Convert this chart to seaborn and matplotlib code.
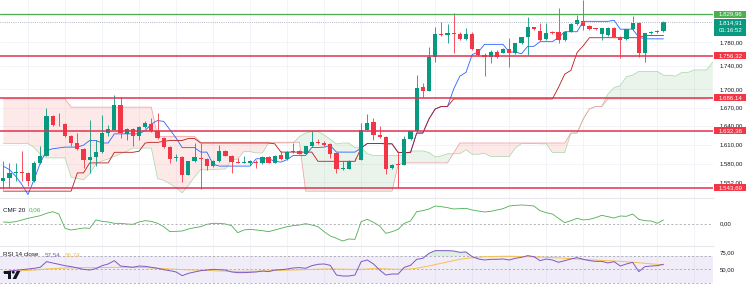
import numpy as np
import matplotlib
matplotlib.use("Agg")
import matplotlib.pyplot as plt
from matplotlib.patches import Rectangle, Polygon, Ellipse
from matplotlib.ticker import NullLocator
import seaborn as sns

# ---------------- data ----------------
opens = [1553.9, 1558.9, 1566.5, 1567.0, 1566.5, 1553.9, 1581.9, 1593.3, 1655.5, 1643.0,
         1643.0, 1624.6, 1613.0, 1604.2, 1587.0, 1590.6, 1598.4, 1628.8, 1634.1, 1674.4,
         1627.2, 1635.2, 1623.6, 1637.9, 1643.7, 1631.5, 1620.9, 1606.2, 1589.0, 1591.2,
         1564.0, 1584.4, 1589.6, 1588.0, 1576.7, 1585.0, 1601.0, 1593.3, 1583.0, 1582.0,
         1582.0, 1583.0, 1581.0, 1590.6, 1582.0, 1594.8, 1588.0, 1598.4, 1601.0, 1596.4,
         1607.8, 1614.0, 1613.0, 1611.5, 1597.4, 1572.6, 1573.0, 1586.0, 1587.0, 1634.1,
         1645.8, 1626.2, 1622.5, 1574.2, 1579.8, 1579.3, 1619.3, 1631.5, 1703.0, 1698.0,
         1755.3, 1793.9, 1792.1, 1795.6, 1793.9, 1785.2, 1793.9, 1767.8, 1758.1, 1755.3,
         1762.7, 1762.1, 1767.8, 1760.9, 1778.2, 1788.6, 1806.2, 1800.3, 1785.2, 1798.6,
         1798.6, 1784.0, 1798.6, 1812.2, 1818.1, 1808.6, 1804.5, 1793.9, 1792.7, 1805.6,
         1789.8, 1785.2, 1802.7, 1814.6, 1762.1, 1795.6, 1798.0, 1799.2]
highs = [1584.4, 1581.9, 1581.9, 1600.0, 1567.5, 1584.4, 1607.8, 1669.0, 1658.2, 1660.9,
         1644.5, 1626.2, 1628.8, 1605.2, 1650.2, 1618.3, 1658.2, 1642.1, 1690.8, 1688.0,
         1637.0, 1637.0, 1639.5, 1647.5, 1652.9, 1660.9, 1622.0, 1607.8, 1596.4, 1592.3,
         1585.5, 1613.0, 1613.0, 1589.0, 1586.0, 1610.4, 1602.6, 1594.3, 1589.6, 1592.3,
         1587.0, 1586.0, 1592.3, 1592.3, 1594.8, 1600.0, 1600.0, 1613.0, 1602.6, 1609.0,
         1631.5, 1619.3, 1615.5, 1613.0, 1598.4, 1584.4, 1587.0, 1589.0, 1644.8, 1659.3,
         1652.9, 1639.5, 1623.6, 1580.3, 1600.0, 1623.6, 1632.5, 1724.2, 1710.3, 1772.4,
         1807.4, 1816.4, 1812.2, 1832.3, 1798.6, 1804.5, 1798.6, 1769.0, 1760.9, 1766.7,
         1766.7, 1769.5, 1786.9, 1779.3, 1789.8, 1825.2, 1807.4, 1813.4, 1813.4, 1799.8,
         1840.0, 1799.8, 1813.4, 1828.2, 1855.0, 1809.8, 1805.6, 1805.6, 1806.8, 1806.8,
         1791.0, 1803.9, 1826.4, 1815.8, 1796.8, 1800.3, 1800.8, 1818.1]
lows = [1541.3, 1543.8, 1553.9, 1553.9, 1546.3, 1552.9, 1580.8, 1592.3, 1639.5, 1640.5,
        1622.5, 1607.8, 1602.6, 1574.2, 1566.5, 1576.7, 1597.4, 1623.6, 1633.0, 1620.9,
        1618.3, 1607.8, 1618.3, 1636.8, 1630.0, 1619.5, 1605.0, 1581.9, 1584.4, 1552.4,
        1563.0, 1583.3, 1542.0, 1571.6, 1575.7, 1584.0, 1592.3, 1566.5, 1581.0, 1581.0,
        1579.3, 1574.2, 1580.0, 1581.0, 1581.0, 1587.0, 1587.0, 1597.0, 1595.0, 1595.0,
        1606.7, 1612.0, 1609.0, 1589.6, 1566.5, 1571.6, 1572.0, 1585.0, 1586.0, 1633.0,
        1618.3, 1621.5, 1565.5, 1573.0, 1543.7, 1578.0, 1618.0, 1630.5, 1688.0, 1697.0,
        1746.8, 1791.0, 1779.5, 1760.9, 1784.0, 1784.0, 1766.7, 1756.4, 1722.5, 1744.5,
        1753.0, 1761.0, 1738.3, 1760.0, 1777.0, 1758.1, 1801.5, 1782.8, 1784.0, 1794.5,
        1779.3, 1782.8, 1797.4, 1811.0, 1801.5, 1801.5, 1801.5, 1784.0, 1791.5, 1788.6,
        1752.5, 1784.0, 1801.5, 1755.3, 1746.8, 1794.5, 1797.0, 1798.0]
closes = [1558.9, 1566.5, 1567.0, 1566.5, 1553.9, 1581.9, 1593.3, 1655.5, 1642.1, 1642.5,
          1624.6, 1613.0, 1604.2, 1587.0, 1590.6, 1598.4, 1628.8, 1635.2, 1674.4, 1628.8,
          1635.2, 1623.6, 1637.9, 1644.8, 1631.5, 1620.9, 1606.2, 1588.0, 1591.2, 1564.0,
          1584.4, 1590.6, 1588.0, 1576.7, 1585.0, 1601.0, 1593.3, 1583.0, 1582.0, 1583.5,
          1584.4, 1581.0, 1590.6, 1582.0, 1593.3, 1588.0, 1598.4, 1600.0, 1596.4, 1607.8,
          1614.0, 1613.0, 1610.4, 1596.4, 1572.6, 1574.2, 1585.5, 1587.0, 1634.1, 1644.8,
          1626.2, 1622.5, 1572.6, 1579.3, 1578.8, 1619.3, 1631.5, 1701.9, 1698.0, 1755.3,
          1793.9, 1792.1, 1795.6, 1793.9, 1785.2, 1793.9, 1767.8, 1758.1, 1755.3, 1762.7,
          1755.3, 1768.4, 1760.9, 1778.2, 1788.6, 1806.2, 1802.7, 1784.0, 1795.6, 1795.6,
          1784.0, 1798.6, 1812.2, 1819.3, 1808.6, 1802.7, 1803.3, 1804.5, 1805.6, 1789.8,
          1784.0, 1802.7, 1814.6, 1762.1, 1795.6, 1798.0, 1799.2, 1814.91]

tenkan = [1576.7, 1571.6, 1561.5, 1548.8, 1533.8, 1556.4, 1581.9, 1601.0, 1603.9, 1605.2,
          1606.5, 1606.5, 1606.5, 1609.6, 1617.0, 1617.0, 1613.0, 1613.0, 1627.5, 1627.5,
          1627.5, 1627.5, 1627.5, 1632.8, 1643.4, 1648.8, 1647.5, 1634.1, 1620.9, 1605.7,
          1605.7, 1605.7, 1598.7, 1598.7, 1579.8, 1577.0, 1577.0, 1577.0, 1577.0, 1577.0,
          1577.0, 1588.3, 1588.3, 1588.3, 1584.4, 1583.1, 1587.0, 1593.5, 1593.5, 1593.5,
          1606.0, 1606.0, 1606.5, 1609.1, 1598.7, 1598.7, 1598.7, 1598.7, 1605.2, 1612.2,
          1612.2, 1612.2, 1611.7, 1611.7, 1598.0, 1598.0, 1598.0, 1628.8, 1628.8, 1651.5,
          1667.6, 1671.7, 1671.7, 1700.5, 1722.0, 1728.5, 1758.7, 1763.2, 1776.4, 1776.4,
          1776.4, 1776.4, 1763.0, 1763.0, 1760.2, 1773.0, 1773.0, 1781.1, 1781.1, 1781.1,
          1788.4, 1798.5, 1798.5, 1798.5, 1816.9, 1816.9, 1816.9, 1816.9, 1816.9, 1818.7,
          1803.0, 1803.0, 1803.0, 1788.9, 1786.0, 1786.0, 1786.0, 1786.0]
kijun = [1538.8, 1538.8, 1538.8, 1538.8, 1538.8, 1538.8, 1538.8, 1538.8, 1538.8, 1538.8,
         1538.8, 1538.8, 1566.5, 1566.5, 1581.9, 1581.9, 1581.9, 1581.9, 1598.4, 1598.4,
         1598.4, 1598.4, 1600.0, 1613.0, 1614.0, 1614.0, 1615.6, 1617.0, 1617.0, 1617.0,
         1620.1, 1620.1, 1613.0, 1613.0, 1613.0, 1613.0, 1613.0, 1613.0, 1613.0, 1613.0,
         1613.0, 1613.0, 1613.0, 1613.0, 1611.7, 1598.7, 1598.7, 1598.7, 1598.7, 1598.7,
         1598.7, 1584.4, 1584.4, 1584.4, 1584.4, 1584.4, 1584.4, 1584.4, 1605.2, 1612.2,
         1612.2, 1612.2, 1611.7, 1611.7, 1598.0, 1598.0, 1598.0, 1628.8, 1628.8, 1651.5,
         1667.6, 1671.7, 1671.7, 1684.0, 1684.0, 1684.0, 1684.0, 1684.0, 1684.0, 1684.0,
         1684.0, 1684.0, 1684.0, 1684.0, 1684.0, 1684.0, 1684.0, 1684.0, 1684.0, 1684.0,
         1703.5, 1725.4, 1731.8, 1762.4, 1774.0, 1788.0, 1788.0, 1788.0, 1788.0, 1788.0,
         1788.0, 1788.0, 1788.0, 1788.0, 1792.0, 1792.0, 1792.0, 1792.0]
# leading spans (extend 8 bars beyond the last candle)
span_a = [1612.0, 1612.0, 1612.0, 1612.0, 1612.0, 1606.0, 1595.0, 1589.6, 1589.6, 1589.6,
          1589.6, 1560.0, 1558.0, 1556.0, 1565.0, 1580.0, 1585.0, 1588.0, 1592.0, 1596.0,
          1600.0, 1605.0, 1605.0, 1605.0, 1605.0, 1557.7, 1555.1, 1550.1, 1543.8, 1536.3,
          1547.5, 1560.2, 1571.6, 1571.1, 1571.6, 1572.3, 1572.3, 1586.5, 1588.0, 1599.5,
          1599.5, 1597.4, 1597.4, 1613.0, 1613.0, 1613.0, 1613.0, 1613.5, 1623.1, 1628.8,
          1631.5, 1631.5, 1625.7, 1618.8, 1611.5, 1613.0, 1613.0, 1605.7, 1605.7, 1596.4,
          1593.5, 1593.5, 1593.5, 1593.5, 1593.5, 1593.5, 1600.5, 1600.5, 1600.5, 1598.0,
          1591.1, 1592.8, 1596.1, 1596.1, 1596.1, 1602.3, 1595.3, 1595.3, 1596.9, 1591.7,
          1591.7, 1591.7, 1591.7, 1605.2, 1612.2, 1612.2, 1612.2, 1611.7, 1611.7, 1598.0,
          1598.0, 1598.0, 1628.8, 1628.8, 1651.5, 1667.6, 1671.7, 1671.7, 1692.2, 1703.0,
          1706.2, 1721.3, 1723.6, 1730.2, 1730.2, 1730.2, 1730.2, 1723.5, 1723.5, 1722.1,
          1728.5, 1728.5, 1732.5, 1732.5, 1732.5, 1746.0]
span_b = [1684.2, 1684.2, 1684.2, 1684.2, 1684.2, 1684.2, 1684.2, 1684.2, 1684.2, 1684.2,
          1684.2, 1670.6, 1670.6, 1670.6, 1670.6, 1670.6, 1670.6, 1670.6, 1670.6, 1670.6,
          1670.6, 1670.6, 1670.6, 1670.6, 1670.6, 1623.6, 1623.6, 1623.6, 1623.6, 1623.6,
          1623.6, 1623.6, 1614.2, 1614.2, 1614.2, 1614.2, 1614.2, 1614.2, 1614.2, 1614.2,
          1614.2, 1614.2, 1614.2, 1614.2, 1614.2, 1614.2, 1614.2, 1614.2, 1614.2, 1538.8,
          1538.8, 1538.8, 1538.8, 1538.8, 1538.8, 1538.8, 1538.8, 1538.8, 1538.8, 1538.8,
          1538.8, 1538.8, 1538.8, 1538.8, 1579.3, 1581.9, 1581.9, 1581.9, 1581.9, 1581.9,
          1581.9, 1581.9, 1581.9, 1597.4, 1613.0, 1613.0, 1613.0, 1613.0, 1613.0, 1613.0,
          1613.0, 1613.0, 1613.0, 1613.0, 1613.0, 1613.0, 1613.0, 1613.0, 1613.0, 1613.0,
          1613.0, 1613.0, 1628.8, 1628.8, 1651.5, 1667.6, 1671.7, 1671.7, 1684.0, 1684.0,
          1684.0, 1684.0, 1684.0, 1684.0, 1684.0, 1684.0, 1684.0, 1684.0, 1684.0, 1684.0,
          1684.0, 1684.0, 1684.0, 1684.0, 1684.0, 1687.0]

cmf = [0.03, 0.025, 0.035, 0.06, 0.085, 0.105, 0.125, 0.16, 0.185, 0.15,
       -0.065, -0.09, -0.075, -0.06, -0.065, 0.06, 0.04, 0.03, 0.01, 0.01,
       0.0, -0.005, 0.03, 0.05, 0.04, 0.01, -0.04, -0.115, -0.11, -0.105,
       -0.075, -0.055, -0.04, -0.005, 0.01, 0.01, 0.0, -0.025, -0.13, -0.09,
       -0.08, -0.09, -0.10, -0.115, -0.09, -0.065, -0.04, -0.025, -0.015, 0.005,
       -0.015, -0.04, -0.115, -0.18, -0.215, -0.255, -0.225, -0.23, 0.035, 0.07,
       0.025, -0.03, -0.14, -0.115, -0.08, 0.01, 0.045, 0.185, 0.2, 0.225,
       0.27, 0.26, 0.245, 0.225, 0.23, 0.235, 0.21, 0.195, 0.18, 0.19,
       0.21, 0.23, 0.27, 0.28, 0.285, 0.28, 0.27, 0.20, 0.17, 0.15,
       0.085, 0.02, 0.05, 0.085, 0.06, 0.07, 0.095, 0.13, 0.11, 0.09,
       0.12, 0.115, 0.15, 0.07, 0.05, 0.045, 0.01, 0.06]

rsi = [45.5, 47.4, 48.4, 49.4, 50.4, 51.5, 53.0, 61.5, 59.5, 57.5,
       55.4, 54.0, 52.0, 49.9, 48.9, 51.0, 55.4, 58.0, 63.0, 54.9,
       54.0, 53.0, 54.9, 54.4, 53.0, 51.5, 49.4, 47.9, 46.0, 40.4,
       43.9, 46.0, 47.9, 48.9, 49.9, 49.4, 48.9, 46.0, 45.0, 45.0,
       45.5, 46.0, 47.4, 46.5, 48.9, 49.4, 50.4, 52.0, 52.5, 51.5,
       55.4, 57.5, 58.0, 55.9, 41.4, 39.9, 39.9, 41.4, 61.5, 64.0,
       58.0, 48.9, 41.4, 42.9, 42.9, 53.0, 55.9, 65.0, 66.5, 74.0,
       78.0, 78.0, 78.0, 77.5, 75.5, 76.0, 69.0, 65.5, 64.0, 65.0,
       65.0, 65.5, 64.0, 66.5, 68.0, 70.5, 69.0, 63.0, 65.5, 64.0,
       60.5, 63.0, 65.5, 67.5, 65.0, 63.0, 61.9, 61.9, 59.5, 61.5,
       54.9, 58.0, 60.5, 46.5, 54.0, 54.9, 55.4, 57.54]
rsi_ma = [46.7, 47.1, 47.5, 47.9, 48.4, 48.8, 49.6, 50.4, 51.0, 51.5,
          52.0, 52.3, 52.5, 52.5, 52.5, 52.5, 52.6, 52.8, 53.0, 53.0,
          53.0, 53.0, 52.8, 52.5, 52.1, 51.6, 51.0, 50.4, 50.0, 49.6,
          49.2, 48.9, 48.6, 48.4, 47.9, 47.5, 47.2, 47.0, 46.9, 46.9,
          47.0, 47.1, 47.4, 47.7, 48.0, 48.4, 48.7, 48.9, 49.2, 49.5,
          49.8, 50.2, 50.4, 50.6, 50.4, 50.2, 50.0, 49.8, 50.0, 50.4,
          51.0, 51.0, 50.7, 50.2, 50.0, 50.0, 50.4, 51.6, 53.3, 54.9,
          57.0, 59.1, 61.1, 63.2, 65.0, 66.3, 67.3, 68.1, 68.8, 69.2,
          69.4, 69.6, 69.6, 69.4, 69.2, 69.0, 68.6, 68.3, 68.0, 67.5,
          67.0, 66.5, 66.0, 65.3, 64.8, 64.3, 63.8, 63.3, 62.9, 62.4,
          62.0, 61.3, 60.6, 59.8, 59.0, 58.2, 57.4, 56.74]

resistance = 1829.96
resistance_label = "1.829,96"
last_price = 1814.91
last_label = "1.814,91"
countdown = "01:16:52"
supports = [1756.32, 1686.14, 1632.36, 1543.69]
support_labels = ["1.756,32", "1.686,14", "1.632,36", "1.543,69"]
price_ticks = [1780, 1740, 1700, 1670, 1640, 1610, 1580, 1552]
price_tick_labels = ["1.780,00", "1.740,00", "1.700,00", "1.670,00",
                     "1.640,00", "1.610,00", "1.580,00", "1.552,00"]
cmf_title, cmf_value = "CMF 20", "0,06"
rsi_title, rsi_value, rsi_ma_value = "RSI 14 close", "57,54", "56,74"
cmf_axis_label = "0,00"
rsi_levels = [70, 50, 30]
rsi_axis_ticks = [75, 50]
rsi_axis_labels = ["75,00", "50,00"]

# ---------------- style ----------------
sns.set_theme(style="white")
plt.rcParams["font.family"] = ["Liberation Sans", "DejaVu Sans"]

BULL, BEAR = "#089981", "#f23645"
LEVEL_RED, LEVEL_GREEN = "#e0334d", "#4caf50"
GRID = "#f0f3fa"
TXT = "#131722"

W, H = 750, 285
fig = plt.figure(figsize=(W / 100, H / 100), dpi=100)
fig.patch.set_facecolor("white")


def fx(px):
    return px / W


def fy(py):
    return 1 - py / H


PW = 713
ax = fig.add_axes([0, fy(198), fx(PW), 198 / H])
ax_c = fig.add_axes([0, fy(246), fx(PW), 48 / H])
ax_r = fig.add_axes([0, 0, fx(PW), 39 / H])

o = np.array(opens); h = np.array(highs); l = np.array(lows); c = np.array(closes)
idx = np.arange(len(c))
cols = np.where(c >= o, BULL, BEAR)

# ---- main pane ----
jj = np.arange(len(span_a))
A = np.array(span_a); B = np.array(span_b)
ax.fill_between(jj, A, B, where=A >= B, interpolate=True, color="#43a047", alpha=0.11, lw=0, zorder=1)
ax.fill_between(jj, A, B, where=A < B, interpolate=True, color="#f44336", alpha=0.11, lw=0, zorder=1)
sns.lineplot(x=jj, y=A, ax=ax, color="#a5d6a7", linewidth=0.5, zorder=1.5)
sns.lineplot(x=jj, y=B, ax=ax, color="#ef9a9a", linewidth=0.5, zorder=1.5)

sns.lineplot(x=idx, y=tenkan, ax=ax, color="#2962ff", linewidth=0.6, zorder=2)
sns.lineplot(x=idx, y=kijun, ax=ax, color="#b71c1c", linewidth=0.6, zorder=2)

ax.vlines(idx, l, h, colors=cols, linewidth=0.6, zorder=3)
ax.bar(idx, np.maximum(np.abs(c - o), 0.9), bottom=np.minimum(o, c), width=0.68,
       color=cols, linewidth=0, zorder=3.5)

for lv in supports:
    ax.axhline(lv, color=LEVEL_RED, linewidth=1.1, zorder=4)
ax.axhline(resistance, color=LEVEL_GREEN, linewidth=0.9, zorder=4)
ax.axhline(last_price, color="#9aa3b5", linewidth=0.6, linestyle=(0, (1, 1.6)), zorder=4)

ax.set_yscale("log")
ax.set_ylim(1528.5, 1855.2)
ax.set_xlim(-0.535, 115.03)
ax.set_yticks(price_ticks)
ax.yaxis.set_minor_locator(NullLocator())

xt = np.arange(4, 116, 6)
for a in (ax, ax_c, ax_r):
    a.set_xlim(-0.535, 115.03)
    a.set_xticks(xt)
    a.grid(True, color=GRID, linewidth=0.6)
    a.set_axisbelow(True)
    a.tick_params(length=0, labelbottom=False, labelleft=False)
    a.set_xlabel(""); a.set_ylabel("")
    a.set_facecolor("white")
    for s in a.spines.values():
        s.set_visible(False)
for a in (ax_c, ax_r):
    a.spines["top"].set_visible(True)
    a.spines["top"].set_color("#e6e8ee")
    a.spines["top"].set_linewidth(0.8)

# ---- CMF pane ----
sns.lineplot(x=idx, y=cmf, ax=ax_c, color="#4caf50", linewidth=0.6)
ax_c.axhline(0, color="#9598a1", linewidth=0.5, linestyle=(0, (3, 3)))
ax_c.set_ylim(-0.33, 0.39)
ax_c.set_yticks([])
ax_c.set_xlabel(""); ax_c.set_ylabel("")

# ---- RSI pane ----
ax_r.axhspan(rsi_levels[2], rsi_levels[0], color="#7e57c2", alpha=0.1, lw=0)
for lv in rsi_levels:
    ax_r.axhline(lv, color="#9598a1", linewidth=0.5, linestyle=(0, (3, 3)))
r = np.array(rsi)
ax_r.fill_between(idx, rsi_levels[0], r, where=r > rsi_levels[0], interpolate=True,
                  color="#4caf50", alpha=0.18, lw=0)
sns.lineplot(x=idx, y=rsi_ma, ax=ax_r, color="#f5c14a", linewidth=0.7)
sns.lineplot(x=idx, y=rsi, ax=ax_r, color="#7e57c2", linewidth=0.7)
ax_r.set_ylim(26.4, 85.0)
ax_r.set_yticks([])
ax_r.set_xlabel(""); ax_r.set_ylabel("")


# ---------------- right-hand labels ----------------
def yfig(a, v):
    return fig.transFigure.inverted().transform(a.transData.transform((0, v)))[1]


for v, t in zip(price_ticks, price_tick_labels):
    fig.text(fx(731.5), yfig(ax, v), t, ha="center", va="center", fontsize=4.3,
             color=TXT, zorder=3)


def level_box(yc, txt, fc):
    fig.add_artist(Rectangle((fx(714), yc - 3.5 / H), 32 / W, 7.0 / H,
                             transform=fig.transFigure, fc=fc, ec="none", zorder=4))
    fig.text(fx(730.5), yc, txt, ha="center", va="center", fontsize=4.4,
             color="white", zorder=5)


level_box(yfig(ax, resistance), resistance_label, LEVEL_GREEN)
for lv, t in zip(supports, support_labels):
    level_box(yfig(ax, lv), t, BEAR)

yl = yfig(ax, last_price)
fig.add_artist(Rectangle((fx(714), yl - 13.1 / H), 32 / W, 16.8 / H,
                         transform=fig.transFigure, fc=BULL, ec="none", zorder=4))
fig.text(fx(730.5), yl, last_label, ha="center", va="center", fontsize=4.4, color="white", zorder=5)
fig.text(fx(730.5), yl - 8 / H, countdown, ha="center", va="center", fontsize=4.4, color="white", zorder=5)

fig.text(fx(726), yfig(ax_c, 0), cmf_axis_label, ha="center", va="center", fontsize=4.3, color=TXT)
for v, t in zip(rsi_axis_ticks, rsi_axis_labels):
    fig.text(fx(727), yfig(ax_r, v), t, ha="center", va="center", fontsize=4.3, color=TXT)

# ---------------- pane titles ----------------
fig.text(fx(3), fy(210), cmf_title, ha="left", va="center", fontsize=4.5, color=TXT)
fig.text(fx(29), fy(210), cmf_value, ha="left", va="center", fontsize=4.5, color="#4caf50")
fig.text(fx(3), fy(255), rsi_title, ha="left", va="center", fontsize=4.5, color=TXT)
fig.text(fx(45), fy(255), rsi_value, ha="left", va="center", fontsize=4.5, color="#7e57c2")
fig.text(fx(65), fy(255), rsi_ma_value, ha="left", va="center", fontsize=4.5, color="#f5c14a")

# ---------------- logo mark ----------------
fig.add_artist(Rectangle((fx(4), fy(273.5)), 7 / W, 2.6 / H, transform=fig.transFigure,
                         fc=TXT, ec="none", zorder=6))
fig.add_artist(Rectangle((fx(8.3), fy(279)), 2.7 / W, 8.1 / H, transform=fig.transFigure,
                         fc=TXT, ec="none", zorder=6))
fig.add_artist(Ellipse((fx(13.3), fy(272.3)), 2.8 / W, 2.8 / H, transform=fig.transFigure,
                       fc=TXT, ec="none", zorder=6))
fig.add_artist(Polygon([(fx(12.6), fy(279)), (fx(16.2), fy(279)), (fx(20.3), fy(271)),
                        (fx(16.7), fy(271))], closed=True, transform=fig.transFigure,
                       fc=TXT, ec="none", zorder=6))

fig.savefig("out.png", dpi=100, facecolor="white")
